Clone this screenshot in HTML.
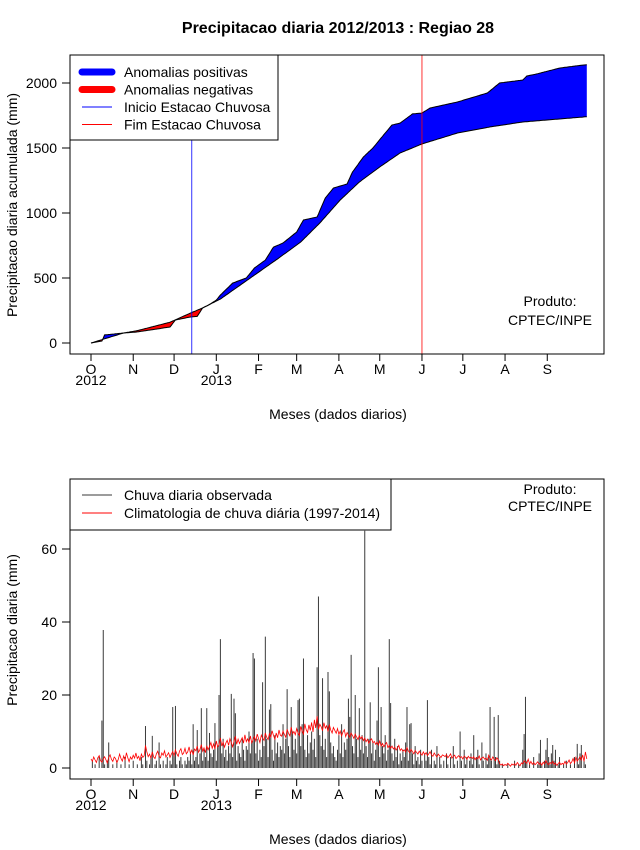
<!DOCTYPE html>
<html><head><meta charset="utf-8"><style>
body{margin:0;background:#fff;}
svg{display:block;font-family:"Liberation Sans",Arial,sans-serif;}
</style></head><body>
<svg id="c" width="640" height="850"></svg>
<script>
// ---- data ----
const monthLabels=["O","N","D","J","F","M","A","M","J","J","A","S"];
const monthDays=[0,31,61,92,123,151,182,212,243,273,304,335];
const yearLabels=["2012","2013"];
const yearDays=[0,92];
const topTicks=[0,500,1000,1500,2000];
const botTicks=[0,20,40,60];
const obsDays=[0,8,10,24,34,58,62,73,78,82,86,92,95,104,114,120,128,134,141,151,156,166,172,178,188,192,200,207,213,221,227,236,243,249,269,291,300,317,320,327,344,361,364];
const obsCum=[0,15,62,77,85,123,177,200,205,270,290,330,369,461,500,577,638,738,769,854,946,969,1115,1192,1223,1315,1431,1500,1577,1677,1692,1762,1769,1808,1854,1923,2000,2023,2054,2069,2115,2138,2140];
const climDays=[0,24,34,58,73,82,95,117,139,154,168,183,197,212,227,243,269,293,317,361,364];
const climCum=[0,77,95,160,230,270,338,500,662,777,923,1100,1238,1354,1462,1531,1615,1662,1700,1738,1741];
const startRainDay=74;
const endRainDay=243;
const obsDaily=[
0,2,0,1,0,0,3,0,13,37.8, 1,0,2,7,0,0,1,0,0,2, 0,0,1,0,0,3,0,0,1,0, 0,2,0,0,1,0,0,3,1,0,
11.5,2,0,1,3,8.8,0,1,2,0, 7,1,0,2,0,1,3,0,2,1, 16.7,4,17,1,0,2,3,1,0,2, 1,3,2,4,1,12,2,3,10.4,1,
4,16.4,2,5,3,16.4,2,9.6,4,3, 5,12.3,2,6,20,35.3,4,8,3,5, 2,6,4,20.3,3,19,15,2,6,4, 3,8,5,2,6,5,10,4,7,31.5,
30,4,8,2,5,3,23.5,6,36,8, 3,16,17.5,5,2,9,4,7,3,6, 5,12,4,8,21.6,6,3,16.7,10,5, 8,4,18.6,19,6,12,30,5,3,9,
4,7,10,5,8,3,27.6,47,9,6, 24.6,5,8,3,26.3,21,7,4,6,3, 2,5,9,4,12,3,7,5,8,19, 14,31,6,4,20,8,3,16.4,5,9,
4,65,6,3,8,18,4,7,2,5, 13,27.6,3,16.7,6,4,9,2,5,35.3, 17.8,4,2,8,3,6,1,4,2,5, 3,7,16.7,2,12,12.3,4,1,6,2,
3,1,5,2,0,4,2,18.6,3,1, 5,0,2,1,6,0,3,1,0,2, 0,4,1,0,3,0,6,1,0,2, 0,10,2,0,5,1,3,0,2,4,
1,9,0,3,5,1,0,7,2,0, 4,1,3,16.7,2,0,14,3,1,14.5, 2,0,1,0,0,0,1,0,0,0, 0,2,0,0,1,0,0,5,9.3,19.5,
2,0,1,0,0,3,0,0,1,4, 7.7,1,0,2,5,8.2,3,1,4,6.3, 2,5,0,1,3,0,0,1,0,2, 0,0,1,0,0,3,0,6.6,1,4,
6.3,0,2,1,0];
const climDaily=[
2.5,1.8,3,2.2,1.5,2.8,3.4,2,1.6,2.5, 3.1,2.2,1.4,2.9,3.6,2.4,1.8,3,2.6,1.5, 2.3,3.8,2.6,1.9,3.3,2.1,4.2,2.8,1.7,3,
2.4,3.5,2.7,4.1,2.6,3.2,2,3.8,2.9,3.3, 6.2,4.5,3.1,3.8,2.7,4.4,3,2.6,3.9,4.6, 3.2,2.8,4.1,3.5,4.7,3,3.6,4.2,2.9,3.8,
4.5,3.4,5,3.9,3.2,4.6,5.3,3.7,4.1,5.4, 3.9,4.4,5.8,4,4.9,3.6,5.2,4.7,6,4.3, 5.1,6.4,4.6,5.5,4.2,6.1,5,5.9,7,5.4,
6.6,5.2,7.4,5.8,6.3,8.2,6,7.1,5.7,6.8, 7.6,6.2,8,6.9,5.8,7.3,8.7,6.5,7.9,6.7, 7.5,8.3,6.8,9.1,7.2,8,7,8.8,6.9,7.7,
8.6,7.4,9.3,8.1,7,9,8.2,7.6,9.6,8.4, 7.8,9.4,8.5,10.2,8.9,7.9,9.6,8.3,10.4,9, 8.7,10.1,9.2,8.4,10.6,9.5,8.8,11.2,9.4,10,
9.1,10.8,9.6,8.9,11.4,10.2,9.3,12.1,10.5,9.7, 11.8,10.3,12.5,9.9,13.2,11,14.2,10.6,12,11.3, 10.2,12.4,10.9,11.6,10,11.9,10.4,9.6,11.1,10.3,
9.5,10.8,9.2,10.1,8.8,9.9,10.5,8.6,9.7,9.1, 8.4,9.6,8.9,8.1,9.3,8.5,7.8,8.9,8,8.6, 7.5,8.2,7.2,7.9,6.8,7.6,8,6.9,7.3,6.5,
7.1,6.3,7.4,6,6.7,5.8,6.5,7,5.6,6.2, 5.4,6,5.2,5.7,4.9,5.5,6.2,4.8,5.3,4.6, 5,4.4,5.6,4.7,4.2,5.1,4.5,3.9,4.8,4.3,
3.8,4.6,4,3.5,4.4,3.7,4.2,3.4,3.9,4.5, 3.6,3.2,4.1,3.5,3,3.8,3.3,2.9,3.6,3.4, 3.1,3.7,2.8,3.3,3.9,2.7,3.2,3.5,2.6,3,
3.4,2.8,3.1,2.5,3.3,2.9,2.4,3.2,2.7,3, 2.6,3.1,2.3,2.9,2.5,3.3,2.2,2.8,3,2.4, 2.7,2.1,3.5,2.6,2.2,3,2.4,2,2.8,2.3,
1.2,0.8,1.1,0.6,1,0.7,1.3,0.9,0.5,1.1, 0.8,1.2,0.7,1.5,1,0.6,1.4,1.1,2,1.6, 1.3,2.4,1.1,1.8,1,1.5,0.9,1.3,1.7,1,
1.4,0.8,1.6,1.1,2,1.3,0.9,1.5,1.2,1.8, 1,1.4,0.7,1.2,1.6,0.9,1.3,1,1.8,1.1, 1.5,2.2,1.2,1.7,2.6,1.4,2.9,1.9,2.4,3.1,
2.2,3.6,1.8,4.4,2.5];

// ---- helpers ----
const NS="http://www.w3.org/2000/svg";
const svg=document.getElementById('c');
function mk(tag,attrs,parent){const e=document.createElementNS(NS,tag);for(const k in attrs)e.setAttribute(k,attrs[k]);(parent||svg).appendChild(e);return e;}
function txt(s,x,y,size,anchor,parent,extra){const e=mk('text',Object.assign({x:x,y:y,'font-size':size,'text-anchor':anchor||'middle',fill:'#000'},extra||{}),parent);e.textContent=s;return e;}
const xDay=d=>91+d*1.362;
const yTop=v=>343-v*0.13;
const yBot=v=>768-v*3.65;
function interp(ds,vs,d){for(let i=1;i<ds.length;i++){if(d<=ds[i]){const t=(d-ds[i-1])/(ds[i]-ds[i-1]);return vs[i-1]+t*(vs[i]-vs[i-1]);}}return vs[vs.length-1];}

// title
const titleEl=txt("Precipitacao diaria 2012/2013 : Regiao 28",338,33,16,'middle',svg,{'font-weight':'bold'});



function xAxis(yb,name){
  const g=mk('g',{});
  
  
  mk('line',{x1:xDay(monthDays[0]),x2:xDay(monthDays[monthDays.length-1]),y1:yb,y2:yb,stroke:'#000'},g);
  monthDays.forEach((d,i)=>{mk('line',{x1:xDay(d),x2:xDay(d),y1:yb,y2:yb+7,stroke:'#000'},g);txt(monthLabels[i],xDay(d),yb+20,14,'middle',g);});
  yearDays.forEach((d,i)=>txt(yearLabels[i],xDay(d),yb+31,14,'middle',g));
  txt("Meses (dados diarios)",338,yb+65,14,'middle',g);
}

// ================= TOP PLOT =================
const topG=mk('g',{});


let blueTop=[],redBot=[],climLine=[],obsLine=[];
for(let d=0;d<=364;d++){
  const o=interp(obsDays,obsCum,d),c=interp(climDays,climCum,d);
  blueTop.push([xDay(d),yTop(Math.max(o,c))]);
  redBot.push([xDay(d),yTop(Math.min(o,c))]);
  climLine.push([xDay(d),yTop(c)]);
  obsLine.push([xDay(d),yTop(o)]);
}
const pts=a=>a.map(p=>p[0].toFixed(1)+','+p[1].toFixed(1)).join(' ');
const rev=a=>a.slice().reverse();
const pb=mk('polygon',{points:pts(blueTop.concat(rev(climLine))),fill:'#0000ff',stroke:'none'},topG);


const pr=mk('polygon',{points:pts(redBot.concat(rev(climLine))),fill:'#ff0000',stroke:'none'},topG);


const lo=mk('polyline',{points:pts(obsLine),fill:'none',stroke:'#000','stroke-width':1},topG);


const lc=mk('polyline',{points:pts(climLine),fill:'none',stroke:'#000','stroke-width':1},topG);


const vs=mk('line',{x1:xDay(startRainDay),x2:xDay(startRainDay),y1:55,y2:354,stroke:'#0000ff','stroke-width':0.8},topG);


const ve=mk('line',{x1:xDay(endRainDay),x2:xDay(endRainDay),y1:55,y2:354,stroke:'#ff0000','stroke-width':0.8},topG);


mk('rect',{x:70,y:55,width:534,height:299,fill:'none',stroke:'#000'},topG);
const ya=mk('g',{},topG);


topTicks.forEach(v=>{mk('line',{x1:62,x2:70,y1:yTop(v),y2:yTop(v),stroke:'#000'},ya);txt(String(v),57,yTop(v)+5,14,'end',ya);});
const yl=txt("Precipitacao diaria acumulada (mm)",17,205,14,'middle',topG,{transform:'rotate(-90 17 205)'});


xAxis(354,'top-x-axis');
const pt=mk('g',{},topG);


txt("Produto:",550,306,14,'middle',pt);txt("CPTEC/INPE",550,325,14,'middle',pt);
const lg=mk('g',{},topG);


mk('rect',{x:70,y:55,width:208,height:85,fill:'#fff',stroke:'#000'},lg);
[["Anomalias positivas",'#0000ff',7],["Anomalias negativas",'#ff0000',7],["Inicio Estacao Chuvosa",'#0000ff',1],["Fim Estacao Chuvosa",'#ff0000',1]].forEach((e,i)=>{
  const y=72+i*17.5;
  mk('line',{x1:82,x2:112,y1:y,y2:y,stroke:e[1],'stroke-width':e[2],'stroke-linecap':e[2]>1?'round':'butt'},lg);
  txt(e[0],124,y+5,14,'start',lg);
});

// ================= BOTTOM PLOT =================
const botG=mk('g',{});


const bars=mk('g',{},botG);


obsDaily.forEach((v,d)=>{
  const l=mk('line',{x1:xDay(d),x2:xDay(d),y1:yBot(0),y2:yBot(v),stroke:'#3a3a3a','stroke-width':1},bars);
  
  
});
const cl=mk('polyline',{points:climDaily.map((v,d)=>xDay(d).toFixed(1)+','+yBot(v).toFixed(1)).join(' '),fill:'none',stroke:'#ff0000','stroke-width':0.8},botG);


mk('rect',{x:70,y:479,width:534,height:300,fill:'none',stroke:'#000'},botG);
const yb2=mk('g',{},botG);


botTicks.forEach(v=>{mk('line',{x1:62,x2:70,y1:yBot(v),y2:yBot(v),stroke:'#000'},yb2);txt(String(v),57,yBot(v)+5,14,'end',yb2);});
const yl2=txt("Precipitacao diaria (mm)",17,630,14,'middle',botG,{transform:'rotate(-90 17 630)'});


xAxis(779,'bottom-x-axis');
const pt2=mk('g',{},botG);


txt("Produto:",550,494,14,'middle',pt2);txt("CPTEC/INPE",550,511,14,'middle',pt2);
const lg2=mk('g',{},botG);


mk('rect',{x:70,y:479,width:321,height:51,fill:'#fff',stroke:'#000'},lg2);
[["Chuva diaria observada",'#3a3a3a'],["Climatologia de chuva diária (1997-2014)",'#ff0000']].forEach((e,i)=>{
  const y=495+i*18;
  mk('line',{x1:82,x2:112,y1:y,y2:y,stroke:e[1],'stroke-width':1},lg2);
  txt(e[0],124,y+5,14,'start',lg2);
});
</script>
</body></html>
